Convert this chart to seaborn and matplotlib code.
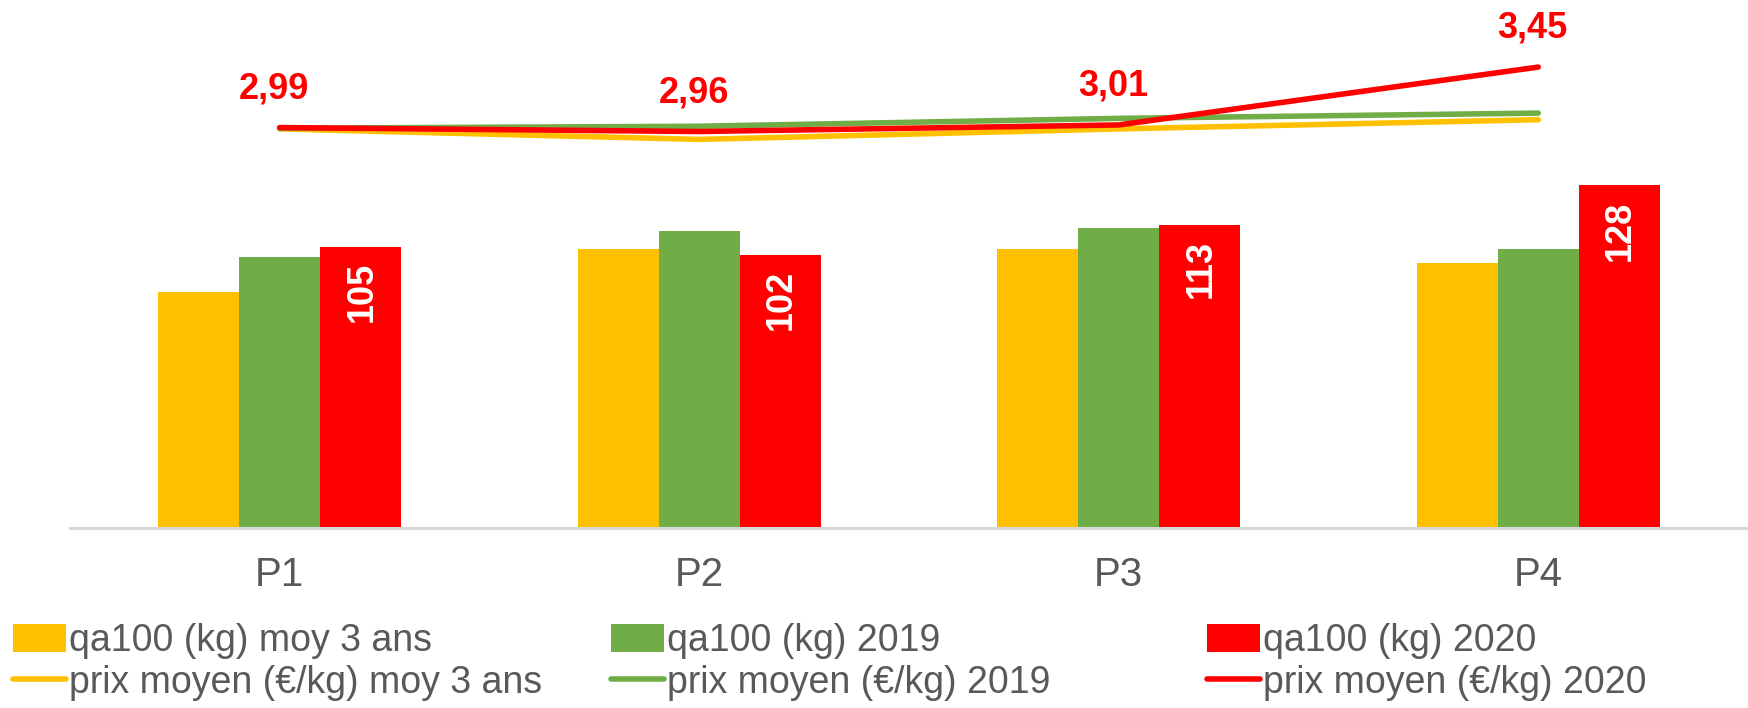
import matplotlib.pyplot as plt
import pandas as pd
import seaborn as sns
from matplotlib.patches import Patch
from matplotlib.lines import Line2D

# Data
periods = ['P1', 'P2', 'P3', 'P4']
qa_moy3 = [88, 104, 104, 99]
qa_2019 = [101, 111, 112, 104]
qa_2020 = [105, 102, 113, 128]
prix_moy3 = [2.98, 2.90, 2.98, 3.05]
prix_2019 = [2.985, 3.00, 3.06, 3.10]
prix_2020 = [2.99, 2.96, 3.01, 3.45]

bar_names = ['qa100 (kg) moy 3 ans', 'qa100 (kg) 2019', 'qa100 (kg) 2020']
line_names = ['prix moyen (€/kg) moy 3 ans', 'prix moyen (€/kg) 2019',
              'prix moyen (€/kg) 2020']
colors = ['#FFC000', '#70AD47', '#FF0000']
grey = '#595959'

df_bar = pd.DataFrame({
    'period': periods * 3,
    'serie': sum([[n] * 4 for n in bar_names], []),
    'qa': qa_moy3 + qa_2019 + qa_2020,
})
df_line = pd.DataFrame({
    'period': periods * 3,
    'serie': sum([[n] * 4 for n in line_names], []),
    'prix': prix_moy3 + prix_2019 + prix_2020,
})

sns.set_style('white')
plt.rcParams['font.family'] = ['Liberation Sans', 'DejaVu Sans']

fig = plt.figure(figsize=(17.48, 7.08), dpi=100)
ax = fig.add_axes([0.04, 0.254, 0.96, 0.746])

sns.barplot(data=df_bar, x='period', y='qa', hue='serie', hue_order=bar_names,
            palette=colors, width=0.58, gap=0, saturation=1, ax=ax, legend=False,
            linewidth=0, edgecolor='none')
ax.set_ylim(0, 197)
ax.set_xlim(-0.5, 3.5)
ax.set_xlabel('')
ax.set_ylabel('')
ax.set_yticks([])
for s in ['top', 'right', 'left']:
    ax.spines[s].set_visible(False)
ax.spines['bottom'].set_color('#D9D9D9')
ax.spines['bottom'].set_linewidth(2.2)
ax.tick_params(axis='x', length=0, pad=20, labelsize=29, labelcolor=grey)

# white labels inside the 2020 bars
for patch, v in zip(ax.containers[2], qa_2020):
    ax.annotate(str(v), xy=(patch.get_x() + patch.get_width() / 2, patch.get_height()),
                xytext=(1, -11), textcoords='offset points', rotation=90,
                ha='center', va='top', color='white', fontsize=26, fontweight='bold')

# price lines on a hidden secondary axis
ax2 = ax.twinx()
sns.lineplot(data=df_line, x='period', y='prix', hue='serie', hue_order=line_names,
             palette=colors, linewidth=4, sort=False, legend=False, ax=ax2,
             solid_capstyle='round')
ax2.set_ylim(-0.056, 3.96)
ax2.set_yticks([])
ax2.set_ylabel('')
for s in ax2.spines.values():
    s.set_visible(False)

for i, v in enumerate(prix_2020):
    ax2.annotate(f'{v:.2f}'.replace('.', ','), xy=(i, v), xytext=(-4, 28),
                 textcoords='offset points', ha='center', va='center',
                 color='#FF0000', fontsize=26, fontweight='bold',
                 family=['Liberation Sans Narrow', 'Liberation Sans'])

# legend: three columns of two entries
xs = [13 / 1748, 611 / 1748, 1207 / 1748]
for x, bn, ln, c in zip(xs, bar_names, line_names, colors):
    handles = [Patch(facecolor=c, edgecolor='none'),
               Line2D([0], [0], color=c, linewidth=4, solid_capstyle='round')]
    fig.legend(handles, [bn, ln], loc='upper left', bbox_to_anchor=(x, 0.12),
               frameon=False, borderpad=0, borderaxespad=0, fontsize=27,
               labelcolor=grey, handlelength=1.4, handleheight=0.8,
               handletextpad=0.1, labelspacing=0.15)

fig.savefig('out.png', dpi=100)
